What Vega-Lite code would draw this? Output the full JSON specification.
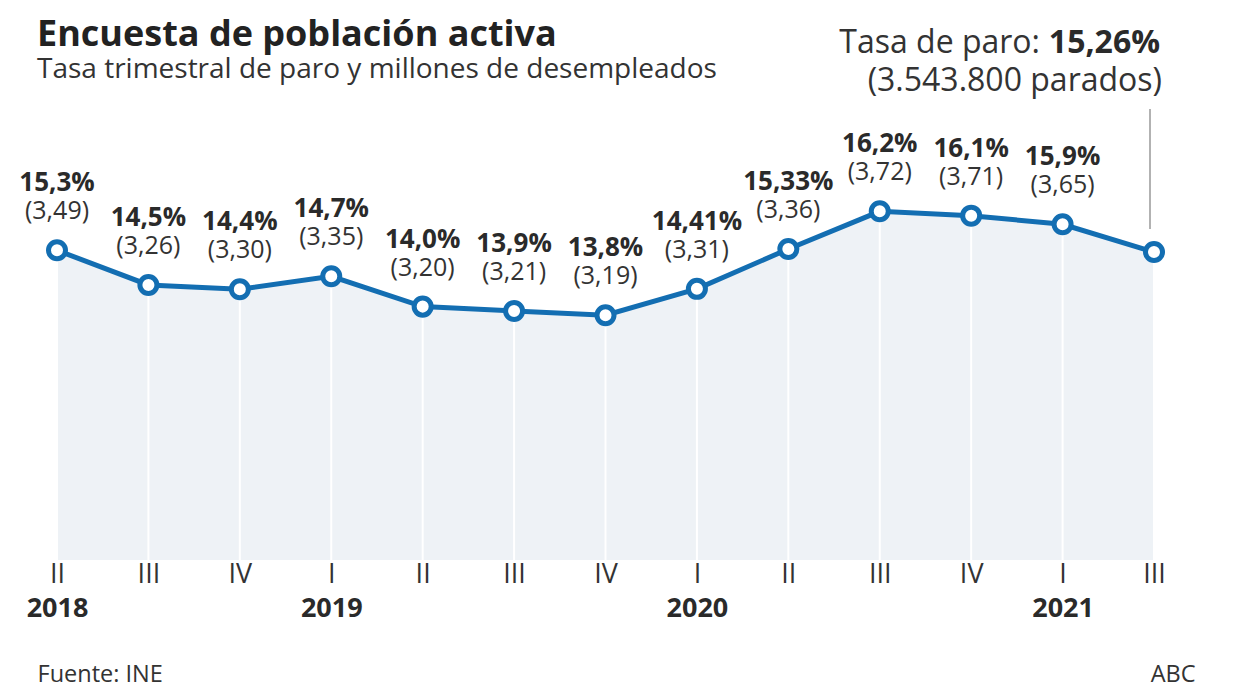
{
  "$schema": "https://vega.github.io/schema/vega-lite/v6.json",
  "width": 1097,
  "height": 460,
  "autosize": {"type": "none"},
  "padding": {"left": 57, "top": 100, "right": 94, "bottom": 138},
  "background": "white",
  "config": {"view": {"stroke": null}, "font": "Open Sans"},
  "title": {
    "text": "Encuesta de población activa",
    "subtitle": "Tasa trimestral de paro y millones de desempleados",
    "anchor": "start",
    "frame": "group",
    "dx": -20,
    "dy": 76,
    "offset": 18,
    "font": "Open Sans",
    "fontSize": 36,
    "fontWeight": "bold",
    "color": "#222222",
    "subtitleFont": "Open Sans",
    "subtitleFontSize": 28,
    "subtitleColor": "#333333",
    "subtitlePadding": 2
  },
  "data": {
    "values": [
      {"q": "2018 II", "rate": 15.3, "pct": "15,3%", "mill": "(3,49)"},
      {"q": "2018 III", "rate": 14.5, "pct": "14,5%", "mill": "(3,26)"},
      {"q": "2018 IV", "rate": 14.4, "pct": "14,4%", "mill": "(3,30)"},
      {"q": "2019 I", "rate": 14.7, "pct": "14,7%", "mill": "(3,35)"},
      {"q": "2019 II", "rate": 14.0, "pct": "14,0%", "mill": "(3,20)"},
      {"q": "2019 III", "rate": 13.9, "pct": "13,9%", "mill": "(3,21)"},
      {"q": "2019 IV", "rate": 13.8, "pct": "13,8%", "mill": "(3,19)"},
      {"q": "2020 I", "rate": 14.41, "pct": "14,41%", "mill": "(3,31)"},
      {"q": "2020 II", "rate": 15.33, "pct": "15,33%", "mill": "(3,36)"},
      {"q": "2020 III", "rate": 16.2, "pct": "16,2%", "mill": "(3,72)"},
      {"q": "2020 IV", "rate": 16.1, "pct": "16,1%", "mill": "(3,71)"},
      {"q": "2021 I", "rate": 15.9, "pct": "15,9%", "mill": "(3,65)"},
      {"q": "2021 III", "rate": 15.26, "pct": "", "mill": ""}
    ]
  },
  "resolve": {"axis": {"x": "independent"}},
  "layer": [
    {
      "mark": {"type": "area", "color": "#eef2f6"},
      "encoding": {
        "x": {
          "field": "q", "type": "ordinal", "sort": null,
          "scale": {"type": "point", "padding": 0},
          "axis": {
            "orient": "bottom",
            "labelExpr": "split(datum.value, ' ')[1]",
            "labelFont": "Open Sans", "labelFontSize": 27, "labelColor": "#333333",
            "labelPadding": 1, "labelAngle": 0, "ticks": false, "domain": false, "grid": false,
            "title": "Fuente: INE", "titleFont": "Open Sans", "titleFontSize": 23.5,
            "titleFontWeight": "normal", "titleColor": "#333333",
            "titleAnchor": "start", "titleAlign": "left", "titleBaseline": "alphabetic",
            "titleX": -20, "titleY": 121
          }
        },
        "y": {"field": "rate", "type": "quantitative", "scale": {"domain": [8.15, 18.77], "zero": false, "nice": false}, "axis": null},
        "y2": {"datum": 8.15}
      }
    },
    {
      "mark": {"type": "rule", "color": "white", "strokeWidth": 2},
      "encoding": {
        "x": {
          "field": "q", "type": "ordinal", "sort": null,
          "axis": {
            "orient": "bottom",
            "labelExpr": "(split(datum.value, ' ')[1] == 'I' || datum.value == '2018 II') ? split(datum.value, ' ')[0] : ''",
            "labelFont": "Open Sans", "labelFontSize": 27, "labelFontWeight": "bold", "labelColor": "#2a2a2a",
            "labelPadding": 35, "labelAngle": 0, "ticks": false, "domain": false, "grid": false,
            "title": "ABC", "titleFont": "Open Sans", "titleFontSize": 23.5,
            "titleFontWeight": "normal", "titleColor": "#333333",
            "titleAnchor": "end", "titleAlign": "right", "titleBaseline": "alphabetic",
            "titleX": 1138, "titleY": 121
          }
        },
        "y": {"field": "rate", "type": "quantitative", "axis": null},
        "y2": {"datum": 8.15}
      }
    },
    {
      "mark": {"type": "line", "color": "#136eb2", "strokeWidth": 5},
      "encoding": {
        "x": {"field": "q", "type": "ordinal", "sort": null, "axis": null},
        "y": {"field": "rate", "type": "quantitative", "axis": null}
      }
    },
    {
      "mark": {"type": "rule", "color": "#999999", "strokeWidth": 1.5, "xOffset": -4},
      "transform": [{"filter": "datum.q == '2021 III'"}],
      "encoding": {
        "x": {"field": "q", "type": "ordinal", "sort": null, "axis": null},
        "y": {"datum": 15.79, "type": "quantitative", "axis": null},
        "y2": {"datum": 18.56}
      }
    },
    {
      "mark": {"type": "point", "filled": true, "fill": "white", "stroke": "#136eb2", "strokeWidth": 5, "size": 290, "opacity": 1},
      "encoding": {
        "x": {"field": "q", "type": "ordinal", "sort": null, "axis": null},
        "y": {"field": "rate", "type": "quantitative", "axis": null}
      }
    },
    {
      "mark": {"type": "text", "baseline": "alphabetic", "dy": -59, "font": "Open Sans", "fontSize": 26, "fontWeight": "bold", "color": "#2a2a2a"},
      "encoding": {
        "x": {"field": "q", "type": "ordinal", "sort": null, "axis": null},
        "y": {"field": "rate", "type": "quantitative", "axis": null},
        "text": {"field": "pct"}
      }
    },
    {
      "mark": {"type": "text", "baseline": "alphabetic", "dy": -31, "font": "Open Sans", "fontSize": 25, "color": "#333333"},
      "encoding": {
        "x": {"field": "q", "type": "ordinal", "sort": null, "axis": null},
        "y": {"field": "rate", "type": "quantitative", "axis": null},
        "text": {"field": "mill"}
      }
    },
    {
      "transform": [{"filter": "datum.q == '2021 III'"}],
      "layer": [
        {
          "mark": {"type": "text", "text": "15,26%", "align": "right", "baseline": "alphabetic", "dx": 6, "dy": -199, "font": "Open Sans", "fontSize": 32, "fontWeight": "bold", "color": "#2a2a2a"},
          "encoding": {
            "x": {"field": "q", "type": "ordinal", "sort": null, "axis": null},
            "y": {"field": "rate", "type": "quantitative", "axis": null}
          }
        },
        {
          "mark": {"type": "text", "text": "Tasa de paro:", "align": "right", "baseline": "alphabetic", "dx": -114, "dy": -199, "font": "Open Sans", "fontSize": 32, "color": "#333333"},
          "encoding": {
            "x": {"field": "q", "type": "ordinal", "sort": null, "axis": null},
            "y": {"field": "rate", "type": "quantitative", "axis": null}
          }
        },
        {
          "mark": {"type": "text", "text": "(3.543.800 parados)", "align": "right", "baseline": "alphabetic", "dx": 8, "dy": -161, "font": "Open Sans", "fontSize": 32, "color": "#333333"},
          "encoding": {
            "x": {"field": "q", "type": "ordinal", "sort": null, "axis": null},
            "y": {"field": "rate", "type": "quantitative", "axis": null}
          }
        }
      ]
    }
  ]
}
